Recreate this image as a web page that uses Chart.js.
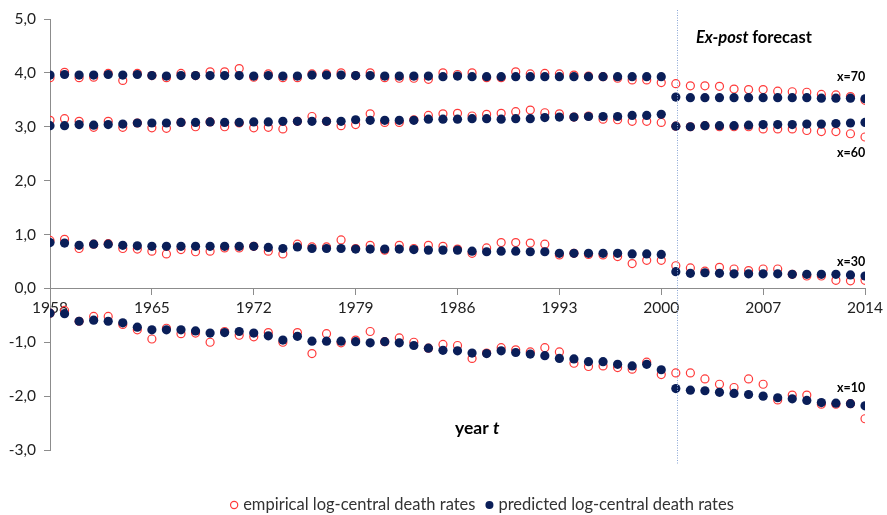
<!DOCTYPE html>
<html>
<head>
<meta charset="utf-8">
<script src="https://cdn.jsdelivr.net/npm/chart.js@4/dist/chart.umd.min.js"></script>
<style>
  html, body { margin: 0; padding: 0; background: #fff; }
  #wrap { width: 887px; height: 515px; }
</style>
</head>
<body>
<div id="wrap"><canvas id="c" width="887" height="515"></canvas></div>
<script>
// years 1958 - 2014 (fit period 1958-2000, ex-post forecast 2001-2014)
const YEARS = [
  1958,1959,1960,1961,1962,1963,1964,
  1965,1966,1967,1968,1969,1970,1971,
  1972,1973,1974,1975,1976,1977,1978,
  1979,1980,1981,1982,1983,1984,1985,
  1986,1987,1988,1989,1990,1991,1992,
  1993,1994,1995,1996,1997,1998,1999,
  2000,2001,2002,2003,2004,2005,2006,
  2007,2008,2009,2010,2011,2012,2013,
  2014
];
const X_TICKS = [1958,1965,1972,1979,1986,1993,2000,2007,2014];
const Y_TICKS = [-3,-2,-1,0,1,2,3,4,5];

// empirical log-central death rates
const EMP_70 = [
  3.91,4.01,3.91,3.92,3.99,3.86,3.99,
  3.95,3.91,3.99,3.95,4.02,4.02,4.08,
  3.92,3.98,3.91,3.91,3.98,3.98,4.00,
  3.95,4.00,3.91,3.90,3.90,3.88,4.00,
  3.97,4.00,3.91,3.91,4.02,3.98,3.99,
  3.98,3.96,3.94,3.93,3.90,3.87,3.87,
  3.82,3.80,3.76,3.76,3.75,3.70,3.69,
  3.69,3.66,3.65,3.64,3.60,3.59,3.56,
  3.49
];
const EMP_60 = [
  3.12,3.15,3.10,2.99,3.10,2.99,3.07,
  2.98,2.97,3.08,3.00,3.09,3.00,3.07,
  2.98,2.99,2.96,3.10,3.19,3.10,3.02,
  3.04,3.24,3.08,3.08,3.13,3.21,3.24,
  3.25,3.20,3.23,3.25,3.28,3.31,3.26,
  3.24,3.18,3.20,3.14,3.13,3.10,3.10,
  3.08,3.01,3.00,3.02,3.00,3.00,3.00,
  2.96,2.96,2.96,2.93,2.91,2.91,2.87,
  2.81
];
const EMP_30 = [
  0.89,0.91,0.74,0.82,0.83,0.74,0.73,
  0.69,0.64,0.72,0.68,0.69,0.75,0.75,
  0.78,0.69,0.64,0.82,0.77,0.77,0.90,
  0.74,0.80,0.71,0.80,0.74,0.80,0.78,
  0.73,0.65,0.75,0.85,0.85,0.84,0.82,
  0.62,0.65,0.63,0.62,0.59,0.46,0.52,
  0.52,0.42,0.38,0.32,0.39,0.36,0.33,
  0.36,0.36,0.26,0.23,0.23,0.15,0.14,
  0.15
];
const EMP_10 = [
  -0.46,-0.41,-0.61,-0.52,-0.52,-0.67,-0.77,
  -0.94,-0.74,-0.84,-0.83,-1.00,-0.80,-0.87,
  -0.90,-0.82,-1.00,-0.82,-1.21,-0.84,-1.01,
  -0.96,-0.80,-0.99,-0.92,-1.00,-1.11,-1.04,
  -1.06,-1.30,-1.20,-1.10,-1.14,-1.18,-1.10,
  -1.18,-1.39,-1.45,-1.44,-1.47,-1.50,-1.37,
  -1.60,-1.57,-1.57,-1.68,-1.78,-1.84,-1.68,
  -1.78,-2.07,-1.98,-1.98,-2.15,-2.15,-2.14,
  -2.42
];

// predicted log-central death rates
const PRED_70 = [
  3.96,3.97,3.96,3.96,3.97,3.96,3.97,
  3.95,3.94,3.95,3.95,3.95,3.95,3.95,
  3.94,3.95,3.94,3.94,3.96,3.96,3.96,
  3.95,3.95,3.94,3.94,3.94,3.94,3.93,
  3.94,3.93,3.93,3.93,3.93,3.93,3.93,
  3.93,3.93,3.93,3.93,3.93,3.93,3.93,
  3.93,3.55,3.54,3.54,3.54,3.54,3.54,
  3.54,3.54,3.54,3.54,3.53,3.53,3.53,
  3.52
];
const PRED_60 = [
  3.02,3.02,3.04,3.03,3.04,3.05,3.07,
  3.07,3.07,3.08,3.08,3.09,3.08,3.08,
  3.09,3.09,3.10,3.10,3.10,3.10,3.10,
  3.13,3.12,3.12,3.12,3.12,3.14,3.14,
  3.14,3.15,3.15,3.14,3.15,3.15,3.17,
  3.18,3.18,3.19,3.19,3.19,3.21,3.21,
  3.23,3.01,3.00,3.02,3.02,3.02,3.03,
  3.04,3.04,3.04,3.05,3.05,3.06,3.07,
  3.08
];
const PRED_30 = [
  0.85,0.84,0.80,0.82,0.82,0.80,0.79,
  0.78,0.78,0.78,0.78,0.78,0.78,0.78,
  0.78,0.76,0.74,0.77,0.74,0.74,0.74,
  0.73,0.73,0.73,0.73,0.72,0.71,0.71,
  0.71,0.69,0.68,0.69,0.69,0.68,0.68,
  0.65,0.65,0.65,0.65,0.65,0.64,0.64,
  0.63,0.31,0.28,0.29,0.28,0.27,0.27,
  0.27,0.27,0.26,0.26,0.26,0.26,0.25,
  0.23
];
const PRED_10 = [
  -0.46,-0.47,-0.61,-0.59,-0.61,-0.64,-0.72,
  -0.77,-0.77,-0.77,-0.79,-0.83,-0.82,-0.80,
  -0.83,-0.88,-0.96,-0.89,-0.98,-0.98,-0.98,
  -0.99,-1.01,-0.99,-1.01,-1.06,-1.11,-1.15,
  -1.16,-1.20,-1.21,-1.16,-1.19,-1.22,-1.25,
  -1.30,-1.31,-1.36,-1.36,-1.41,-1.44,-1.41,
  -1.51,-1.86,-1.89,-1.90,-1.93,-1.95,-1.97,
  -2.00,-2.03,-2.05,-2.08,-2.12,-2.13,-2.14,
  -2.18
];

const RED = "#ff3a3a";
const NAVY = "#0a1e58";
const FONT = "Lato";

function pts(vals){
  return YEARS.map((y,i)=>({x:y, y:vals[i]}));
}
function empSet(vals){
  return {data: pts(vals), pointStyle:"circle", pointRadius:4, pointBorderWidth:1.2,
    pointBorderColor:RED, pointBackgroundColor:"rgba(255,255,255,0)", order:2};
}
function predSet(vals){
  return {data: pts(vals), pointStyle:"circle", pointRadius:4.6, pointBorderWidth:0,
    pointBorderColor:NAVY, pointBackgroundColor:NAVY, order:1};
}

Chart.defaults.font.family = FONT;

const extras = {
  id: "extras",
  afterDraw(chart){
    const c = chart.ctx, xs = chart.scales.x;
    c.save();
    // forecast start line
    const lx = Math.round(xs.getPixelForValue(2001.1)) + 0.5;
    c.strokeStyle = "#8aa6d6";
    c.lineWidth = 1;
    c.setLineDash([1,1.5]);
    c.beginPath(); c.moveTo(lx, 10); c.lineTo(lx, 464); c.stroke();
    c.setLineDash([]);

    c.fillStyle = "#000";
    c.textBaseline = "middle";
    c.textAlign = "left";
    // Ex-post forecast
    c.font = "italic bold 16.5px " + FONT;
    c.fillText("Ex-post", 696, 38);
    let w = c.measureText("Ex-post ").width;
    c.font = "bold 16.5px " + FONT;
    c.fillText("forecast", 696 + w, 38);

    // series labels
    c.font = "bold 12.5px " + FONT;
    c.fillText("x=70", 837, 77);
    c.fillText("x=60", 837, 153);
    c.fillText("x=30", 837, 262);
    c.fillText("x=10", 837, 388);

    // axis title
    c.font = "bold 17.5px " + FONT;
    c.fillText("year ", 455, 428);
    w = c.measureText("year ").width;
    c.font = "italic bold 17.5px " + FONT;
    c.fillText("t", 455 + w, 428);

    // legend
    const t1 = "empirical log-central death rates", t2 = "predicted log-central death rates";
    c.font = "16.5px " + FONT;
    const w1 = c.measureText(t1).width, w2 = c.measureText(t2).width;
    const total = 13 + w1 + 10 + 13 + w2;
    let x = 482 - total/2;
    const ly = 505;
    c.strokeStyle = RED; c.lineWidth = 1.2;
    c.beginPath(); c.arc(x + 4, ly, 3.6, 0, Math.PI*2); c.stroke();
    x += 13;
    c.fillStyle = "#333";
    c.fillText(t1, x, ly);
    x += w1 + 10;
    c.fillStyle = NAVY;
    c.beginPath(); c.arc(x + 4, ly, 4, 0, Math.PI*2); c.fill();
    x += 13;
    c.fillStyle = "#333";
    c.fillText(t2, x, ly);
    c.restore();
  }
};

new Chart(document.getElementById("c"), {
  type: "scatter",
  data: {
    datasets: [
      predSet(PRED_70), predSet(PRED_60), predSet(PRED_30), predSet(PRED_10),
      empSet(EMP_70), empSet(EMP_60), empSet(EMP_30), empSet(EMP_10)
    ]
  },
  options: {
    responsive: false,
    animation: false,
    layout: {padding: {left: 0, right: 19, top: 19, bottom: 65}},
    plugins: {legend: {display: false}, tooltip: {enabled: false}},
    scales: {
      x: {
        type: "linear",
        position: {y: 0},
        min: 1958, max: 2014,
        afterBuildTicks: s => { s.ticks = X_TICKS.map(v => ({value: v})); },
        ticks: {callback: v => String(v), color: "#222", font: {size: 15.5}, padding: 4, maxRotation: 0, autoSkip: false},
        grid: {drawOnChartArea: false, tickLength: 6, color: "#8c8c8c"},
        border: {color: "#8c8c8c"}
      },
      y: {
        min: -3, max: 5,
        afterBuildTicks: s => { s.ticks = Y_TICKS.map(v => ({value: v})); },
        afterFit: s => { s.width = 50; },
        ticks: {callback: v => v.toFixed(1).replace(".", ","), color: "#222", font: {size: 15.5}, padding: 8},
        grid: {drawOnChartArea: false, tickLength: 6, color: "#8c8c8c"},
        border: {color: "#8c8c8c"}
      }
    }
  },
  plugins: [extras]
});
</script>
</body>
</html>
